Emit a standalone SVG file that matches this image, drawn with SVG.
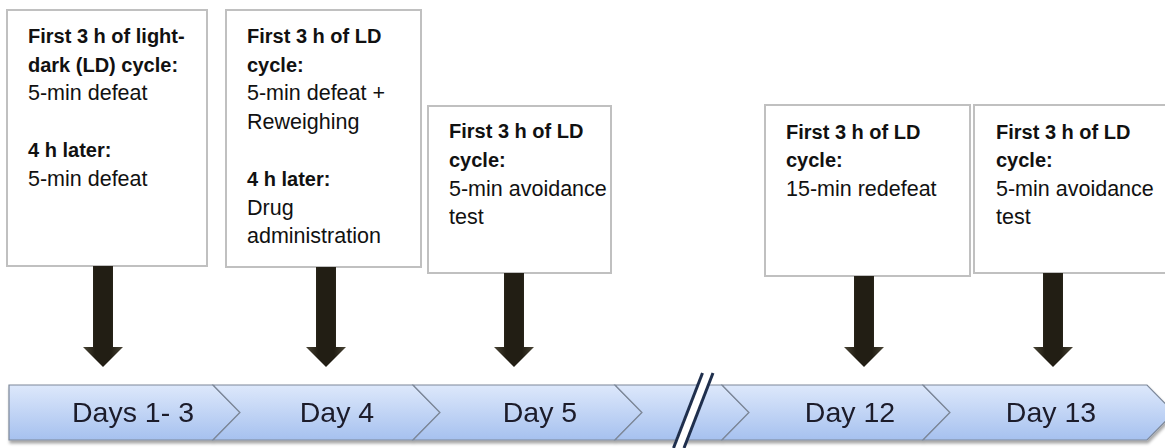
<svg xmlns="http://www.w3.org/2000/svg" width="1165" height="448" viewBox="0 0 1165 448">
<defs>
<linearGradient id="band" x1="0" y1="0" x2="0" y2="1">
<stop offset="0" stop-color="#dde8fb"/>
<stop offset="1" stop-color="#a6c1ef"/>
</linearGradient>
<linearGradient id="shaft" x1="0" y1="0" x2="1" y2="0">
<stop offset="0" stop-color="#4a4536"/>
<stop offset="0.3" stop-color="#221e14"/>
<stop offset="0.7" stop-color="#221e14"/>
<stop offset="1" stop-color="#4a4536"/>
</linearGradient>
<filter id="sh" x="-5%" y="-20%" width="110%" height="150%">
<feDropShadow dx="1" dy="3" stdDeviation="1.5" flood-color="#000" flood-opacity="0.35"/>
</filter>
</defs>
<style>
.box{fill:#fff;stroke:#c0c0c0;stroke-width:2}
.b{font-family:"Liberation Sans",Arial,sans-serif;font-weight:bold;font-size:20px;fill:#111}
.r{font-family:"Liberation Sans",Arial,sans-serif;font-size:21.5px;fill:#111}
.chev{fill:url(#band);stroke:#7d8899;stroke-width:1.2}
.day{font-family:"Liberation Sans",Arial,sans-serif;font-size:28.5px;fill:#1b1b2b;text-anchor:middle}
.arr{fill:url(#shaft)}
</style>
<rect width="1165" height="448" fill="#fff"/>

<g id="box1">
<rect class="box" x="7" y="10" width="200" height="256"/>
<text class="b" x="28" y="43">First 3 h of light-</text>
<text class="b" x="28" y="71.5">dark (LD) cycle:</text>
<text class="r" x="28" y="100">5-min defeat</text>
<text class="b" x="28" y="157">4 h later:</text>
<text class="r" x="28" y="185.5">5-min defeat</text>
</g>

<g id="box2">
<rect class="box" x="226" y="10" width="195" height="257"/>
<text class="b" x="247" y="43">First 3 h of LD</text>
<text class="b" x="247" y="71.5">cycle:</text>
<text class="r" x="247" y="100">5-min defeat +</text>
<text class="r" x="247" y="128.5">Reweighing</text>
<text class="b" x="247" y="186">4 h later:</text>
<text class="r" x="247" y="215">Drug</text>
<text class="r" x="247" y="243">administration</text>
</g>

<g id="box3">
<rect class="box" x="428" y="106" width="183" height="167"/>
<text class="b" x="449" y="138">First 3 h of LD</text>
<text class="b" x="449" y="167">cycle:</text>
<text class="r" x="449" y="196">5-min avoidance</text>
<text class="r" x="449" y="224">test</text>
</g>

<g id="box4">
<rect class="box" x="765" y="105" width="205" height="171"/>
<text class="b" x="786" y="139">First 3 h of LD</text>
<text class="b" x="786" y="167">cycle:</text>
<text class="r" x="786" y="196">15-min redefeat</text>
</g>

<g id="box5">
<rect class="box" x="974" y="105" width="200" height="168"/>
<text class="b" x="996" y="139">First 3 h of LD</text>
<text class="b" x="996" y="167">cycle:</text>
<text class="r" x="996" y="196">5-min avoidance</text>
<text class="r" x="996" y="224">test</text>
</g>

<g id="connectors">
<path class="arr" d="M93,266 H113 V347 H123 L103,367 L83,347 H93 Z"/>
<path class="arr" d="M316,267 H336 V347 H346 L326,367 L306,347 H316 Z"/>
<path class="arr" d="M504,273 H524 V347 H534 L514,367 L494,347 H504 Z"/>
<path class="arr" d="M854,276 H874 V347 H884 L864,367 L844,347 H854 Z"/>
<path class="arr" d="M1043,273 H1063 V347 H1073 L1053,367 L1033,347 H1043 Z"/>
</g>

<g id="timeline" filter="url(#sh)">
<g id="seg-days1-3">
<path class="chev" d="M9,385 H213 L240,412.5 L213,440 H9 Z"/>
<text class="day" x="133" y="422">Days 1- 3</text>
</g>
<g id="seg-day4">
<path class="chev" d="M213,385 H413 L440,412.5 L413,440 H213 L240,412.5 Z"/>
<text class="day" x="337" y="422">Day 4</text>
</g>
<g id="seg-day5">
<path class="chev" d="M413,385 H615 L642,412.5 L615,440 H413 L440,412.5 Z"/>
<text class="day" x="540" y="422">Day 5</text>
</g>
<g id="seg-gap">
<path class="chev" d="M615,385 H722 L749,412.5 L722,440 H615 L642,412.5 Z"/>
</g>
<g id="seg-day12">
<path class="chev" d="M722,385 H923 L950,412.5 L923,440 H722 L749,412.5 Z"/>
<text class="day" x="850" y="422">Day 12</text>
</g>
<g id="seg-day13">
<path class="chev" d="M923,385 H1147 L1174,412.5 L1147,440 H923 L950,412.5 Z"/>
<text class="day" x="1051" y="422">Day 13</text>
</g>
</g>

<g id="break-mark">
<polygon points="702,373 714,373 684,448 672,448" fill="#fff"/>
<line x1="702.5" y1="373" x2="673.5" y2="448" stroke="#1f2f4d" stroke-width="3"/>
<line x1="713" y1="373" x2="684" y2="448" stroke="#1f2f4d" stroke-width="3"/>
</g>
</svg>
